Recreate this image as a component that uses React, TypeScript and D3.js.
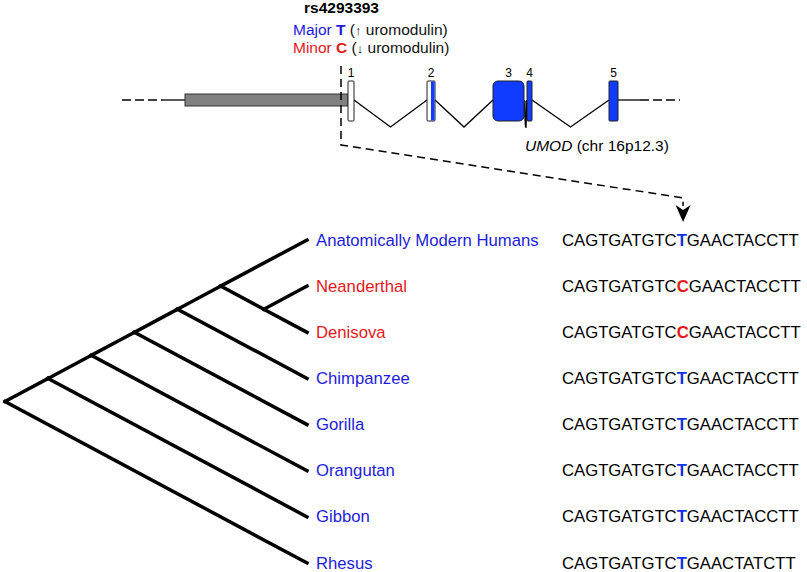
import React from "react";
import * as d3 from "d3";

// ---------- data ----------
const snpId = "rs4293393";
const majorAllele = "T";
const minorAllele = "C";
const geneLabel = "UMOD";
const geneLocus = " (chr 16p12.3)";

// gene model in relative units (0..560)
const utrSpan = [63, 226];
const exonNames = ["1", "2", "3", "4", "5"];
const exonStart = [226, 305, 371, 405, 487];
const exonEnd = [232, 313, 402, 410, 496];
const exonBlueFrom = [null, 309, 371, 405, 487];
const leftLine = [0, 63];
const rightLine = [496, 558];
const snpPos = 219;

// phylogeny (Newick) and sequences
const newick = "((((((Anatomically Modern Humans,(Neanderthal,Denisova)),Chimpanzee),Gorilla),Orangutan),Gibbon),Rhesus)";
const taxa = ["Anatomically Modern Humans", "Neanderthal", "Denisova", "Chimpanzee", "Gorilla", "Orangutan", "Gibbon", "Rhesus"];
const archaic = [false, true, true, false, false, false, false, false];
const sequences = [
  "CAGTGATGTCTGAACTACCTT",
  "CAGTGATGTCCGAACTACCTT",
  "CAGTGATGTCCGAACTACCTT",
  "CAGTGATGTCTGAACTACCTT",
  "CAGTGATGTCTGAACTACCTT",
  "CAGTGATGTCTGAACTACCTT",
  "CAGTGATGTCTGAACTACCTT",
  "CAGTGATGTCTGAACTATCTT",
];
const snpIndex = 10;

// ---------- helpers ----------
type N = { name?: string; children?: N[] };
function parseNewick(s: string): N {
  let i = 0;
  function node(): N {
    if (s[i] === "(") {
      i++;
      const kids: N[] = [node()];
      while (s[i] === ",") { i++; kids.push(node()); }
      i++; // ')'
      return { children: kids };
    }
    let name = "";
    while (i < s.length && s[i] !== "," && s[i] !== ")") name += s[i++];
    return { name };
  }
  return node();
}

const FONT = "'Liberation Sans', Arial, Helvetica, sans-serif";
const BLUE = "#1c1cd8";
const SEQBLUE = "#1030e6";
const RED = "#e3191c";
const EXONBLUE = "#0f3cff";

export default function App() {
  const W = 807, H = 572;
  const gx = d3.scaleLinear().domain([0, 560]).range([122, 682]);
  const geneY = 100;
  const exonTop = 81, exonBot = 121, intronDip = 127;

  // tree
  const root = d3.hierarchy<N>(parseNewick(newick));
  const leaves = root.leaves();
  const yLeaf = d3.scaleLinear().domain([0, taxa.length - 1]).range([240, 563]);
  const xSpan = d3.scaleLinear().domain([0, taxa.length - 1]).range([307, 5]);
  const pos = new Map<any, [number, number]>();
  root.eachAfter((n) => {
    const idx = n.leaves().map((l) => taxa.indexOf(l.data.name as string));
    const lo = d3.min(idx)!, hi = d3.max(idx)!;
    pos.set(n, [xSpan(hi - lo), (yLeaf(lo) + yLeaf(hi)) / 2]);
  });
  const branches = root.descendants().filter((n) => n.parent).map((n) => [pos.get(n.parent)!, pos.get(n)!]);

  const line = d3.line();
  const snpX = gx(snpPos);
  const seqX = 562;
  const seqFont = 16.7;
  // x of highlighted base, measured through character widths (Arial metrics)
  const cw: Record<string, number> = { C: 0.722, A: 0.667, G: 0.778, T: 0.611 };
  const prefixW = d3.sum(sequences[0].slice(0, snpIndex).split(""), (c) => cw[c]) * seqFont;
  const arrowX = seqX + prefixW + (cw.T * seqFont) / 2;

  const introns = exonStart.slice(1).map((s, i) => {
    const a = gx(exonEnd[i]), b = gx(s);
    return [[a, geneY], [(a + b) / 2, intronDip], [b, geneY]] as [number, number][];
  });

  return (
    <svg width={W} height={H} style={{ position: "absolute", left: 0, top: 0, background: "#fff" }} fontFamily={FONT}>
      {/* header */}
      <text x={304} y={13} fontSize={15.5} fontWeight="bold">{snpId}</text>
      <text x={293} y={35} fontSize={15.5} fill={BLUE}>
        Major <tspan fontWeight="bold">{majorAllele}</tspan>
        <tspan fill="#111"> (<tspan fontWeight="bold" fontSize={13}>↑</tspan> uromodulin)</tspan>
      </text>
      <text x={293} y={53} fontSize={15.5} fill={RED}>
        Minor <tspan fontWeight="bold">{minorAllele}</tspan>
        <tspan fill="#111"> (<tspan fontWeight="bold" fontSize={13}>↓</tspan> uromodulin)</tspan>
      </text>

      {/* gene model backbone */}
      <line x1={gx(leftLine[0])} x2={gx(41)} y1={geneY} y2={geneY} stroke="#000" strokeWidth={1.3} strokeDasharray="9,4" />
      <line x1={gx(41)} x2={gx(leftLine[1])} y1={geneY} y2={geneY} stroke="#000" strokeWidth={1.3} />
      <line x1={gx(rightLine[0])} x2={gx(518)} y1={geneY} y2={geneY} stroke="#000" strokeWidth={1.3} />
      <line x1={gx(518)} x2={gx(rightLine[1])} y1={geneY} y2={geneY} stroke="#000" strokeWidth={1.3} strokeDasharray="9,4" />
      {introns.map((p, i) => (
        <path key={i} d={line(p)!} fill="none" stroke="#000" strokeWidth={1.3} />
      ))}
      <rect x={gx(utrSpan[0])} y={94} width={gx(utrSpan[1]) - gx(utrSpan[0])} height={12} fill="#808080" stroke="#333" strokeWidth={1} />

      {/* SNP dashed connector */}
      <path
        d={line([[snpX, 66], [snpX, 145], [arrowX, 198], [arrowX, 206]])!}
        fill="none" stroke="#000" strokeWidth={1.5} strokeDasharray="8,5"
      />
      <path d={`M${arrowX},222 L${arrowX - 7.5},205 L${arrowX},210 L${arrowX + 7.5},205 Z`} fill="#000" />

      {/* exons */}
      {exonStart.map((s, i) => {
        const x0 = gx(s), x1 = gx(exonEnd[i]);
        const bf = exonBlueFrom[i];
        const big = x1 - x0 > 15;
        const r = big ? 5 : 1;
        return (
          <g key={i}>
            <rect x={x0} y={exonTop} width={x1 - x0} height={exonBot - exonTop} rx={r} fill={bf === s ? EXONBLUE : "#fff"} stroke="#222" strokeWidth={1} />
            {bf != null && bf > s && (
              <rect x={gx(bf)} y={exonTop + 0.5} width={x1 - gx(bf) - 0.5} height={exonBot - exonTop - 1} fill={EXONBLUE} />
            )}
            <text x={(x0 + x1) / 2} y={77} fontSize={12} textAnchor="middle">{exonNames[i]}</text>
          </g>
        );
      })}
      <line x1={gx(404)} x2={gx(404)} y1={101} y2={128} stroke="#000" strokeWidth={1.3} />
      <text x={525} y={151} fontSize={15.5}>
        <tspan fontStyle="italic">{geneLabel}</tspan>{geneLocus}
      </text>

      {/* tree */}
      {branches.map((b, i) => (
        <path key={i} d={line(b as any)!} stroke="#000" strokeWidth={3.5} strokeLinecap="square" fill="none" />
      ))}
      {leaves.map((l) => {
        const i = taxa.indexOf(l.data.name as string);
        const y = yLeaf(i);
        const seq = sequences[i];
        const hiCol = archaic[i] ? RED : SEQBLUE;
        return (
          <g key={i}>
            <text x={316} y={y + 5.5} fontSize={16.7} fill={archaic[i] ? RED : BLUE}>{taxa[i]}</text>
            <text x={seqX} y={y + 5.5} fontSize={seqFont} fill="#000">
              {seq.slice(0, snpIndex)}
              <tspan fontWeight="bold" fill={hiCol}>{seq[snpIndex]}</tspan>
              {seq.slice(snpIndex + 1)}
            </text>
          </g>
        );
      })}
    </svg>
  );
}
